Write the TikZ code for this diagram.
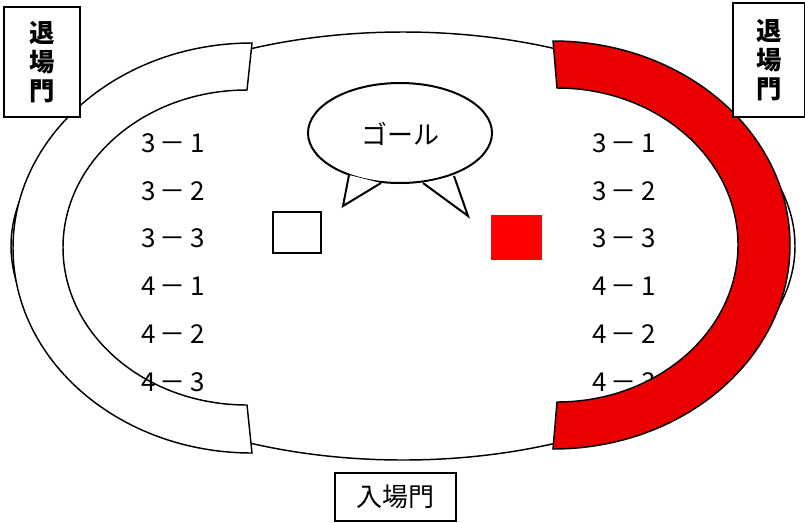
\documentclass[tikz,border=0pt]{standalone}
\usepackage{fontspec}
\newfontfamily\jpfont{Noto Sans CJK JP}
\definecolor{bandred}{RGB}{234,0,0}

\tikzset{
	gate/.style={draw, line width=1.1pt, fill=white, inner sep=0pt, align=center},
	seat/.style={font=\jpfont\fontsize{19.5}{19.5}\selectfont},
}

\begin{document}
\begin{tikzpicture}[x=0.75pt, y=-0.75pt, line width=1.1pt]
	\useasboundingbox (0,0) rectangle (805,522);

	%track
	\draw (403,246) ellipse [x radius=392, y radius=214];

	%left band, white
	\draw[fill=white] (252,43) arc[start angle=270, end angle=90, x radius=239, y radius=205]
		-- (247,405) arc[start angle=90, end angle=270, x radius=184, y radius=157.5] -- cycle;

	%right seats go under the red band
	\foreach \lab [count=\i] in {3\,－\,1, 3\,－\,2, 3\,－\,3, 4\,－\,1, 4\,－\,2, 4\,－\,3}
		\node[seat] (seatR\i) at (624,143+47.8*\i-47.8) {\lab};

	%right band, red
	\draw[fill=bandred] (553,41) arc[start angle=-90, end angle=90, x radius=237, y radius=204]
		-- (557,402) arc[start angle=90, end angle=-90, x radius=181, y radius=157] -- cycle;

	%left seats
	\foreach \lab [count=\i] in {3\,－\,1, 3\,－\,2, 3\,－\,3, 4\,－\,1, 4\,－\,2, 4\,－\,3}
		\node[seat] (seatL\i) at (173,143+47.8*\i-47.8) {\lab};

	%gates
	\node[gate, minimum width=57pt, minimum height=82.5pt,
		font=\jpfont\bfseries\fontsize{19}{21.75}\selectfont] (exitL) at (42,62) {退\\場\\門};
	\node[gate, minimum width=54pt, minimum height=85.5pt,
		font=\jpfont\bfseries\fontsize{19}{21.75}\selectfont] (exitR) at (769,60) {退\\場\\門};
	\node[gate, minimum width=90.75pt, minimum height=36pt,
		font=\jpfont\fontsize{19.5}{19.5}\selectfont] (entry) at (395.5,497) {入場門};

	%speech bubble
	\draw[line width=1.5pt, fill=white] (400,133) ellipse [x radius=92, y radius=50];
	\fill[white] (349,175) -- (343,206) -- (381,183) -- cycle;
	\fill[white] (423,183) -- (468,216) -- (454,176) -- cycle;
	\draw[line width=1.5pt, line join=miter] (349,175) -- (343,206) -- (381,183);
	\draw[line width=1.5pt, line join=miter] (423,183) -- (468,216) -- (454,176);
	\node[font=\jpfont\fontsize{19.5}{19.5}\selectfont] (goal) at (400,134) {ゴール};

	%markers
	\draw[line width=1.5pt] (273,212) rectangle (321,253);
	\fill[red] (491,215) rectangle (542,260);
\end{tikzpicture}
\end{document}
